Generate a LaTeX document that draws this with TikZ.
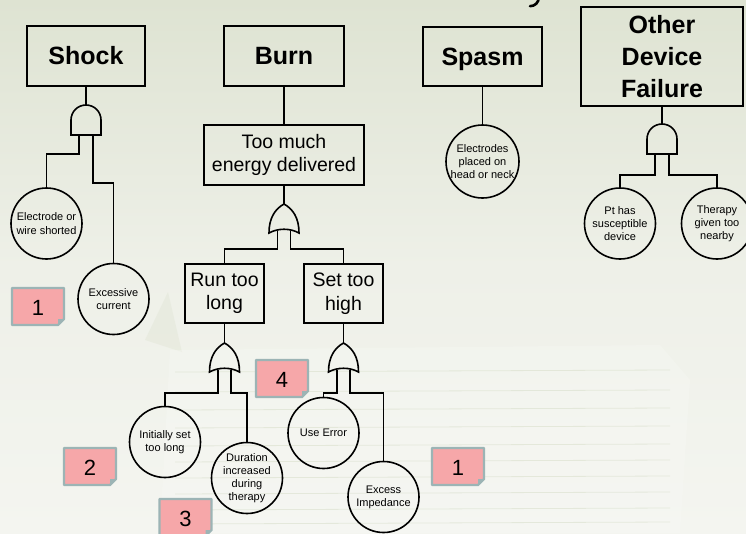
\documentclass[tikz,border=0pt]{standalone}
\usepackage{fontspec}
\setmainfont{Liberation Sans}
\begin{document}
\begin{tikzpicture}[x=1pt,y=-1pt,
  wire/.style={line width=1.6pt, line join=miter},
  event/.style={draw, line width=1.6pt, align=center, inner sep=0pt},
  topbox/.style={event, font=\fontsize{25}{32}\selectfont\bfseries},
  midbox/.style={event, font=\fontsize{19.5}{23.5}\selectfont},
  basic/.style={draw, line width=1.6pt, circle, minimum size=71pt, inner sep=0pt,
    align=center, font=\fontsize{11}{13.2}\selectfont},
  notebody/.style={fill=notepink, draw=noteedge, line width=2.4pt, line join=round},
  notetext/.style={font=\fontsize{22}{22}\selectfont, inner sep=0pt},
  andgate/.pic={
    \draw[wire] (-15,30) -- (-15,15) arc[start angle=180, end angle=0, radius=15pt]
      -- (15,30) -- cycle;
    \coordinate (-top) at (0,0);
    \coordinate (-l) at (-7,30);
    \coordinate (-r) at (7,30);
  },
  orgate/.pic={
    \draw[wire] (0,0) .. controls (9,5) and (15,14) .. (15,29)
      .. controls (6,24) and (-6,24) .. (-15,29)
      .. controls (-15,14) and (-9,5) .. (0,0) -- cycle;
    \coordinate (-top) at (0,0);
    \coordinate (-l) at (-6.5,26.5);
    \coordinate (-r) at (6.5,26.5);
  },
  stickynote/.pic={
    \path[notebody] (-26,-18.5) -- (26,-18.5) -- (26,12.5) -- (20,18.5)
      -- (-26,18.5) -- cycle;
    \fill[noteedge] (26,12.5) -- (20,12.5) -- (20,18.5) -- cycle;
    \node[notetext] (-txt) at (0,1) {#1};
  }
]
\definecolor{bgtop}{HTML}{DEE3D2}
\definecolor{bgmid}{HTML}{EEF0E8}
\definecolor{bgbot}{HTML}{F4F5F0}
\definecolor{paper}{HTML}{F9FAF7}
\definecolor{papershade}{HTML}{D5DCC6}

\definecolor{notepink}{HTML}{F6A7A9}
\definecolor{noteedge}{HTML}{9CB4B5}

% page background
\shade[top color=bgtop, bottom color=bgbot, middle color=bgmid]
  (0,0) rectangle (746,533);
\useasboundingbox (0,0) rectangle (746,533);

% faint stack of papers behind the lower half
\begin{scope}[opacity=0.3]
  \fill[papershade, opacity=0.25] (145,340) -- (168,292) -- (182,352) -- cycle;
  \fill[paper] (170,350) -- (660,345) -- (690,380) -- (680,533) -- (160,533) -- cycle;
  \foreach \yy in {372,392,410,428,446,462,478,494,510,524}
    \draw[papershade, line width=0.8pt, opacity=0.5] (175,\yy) -- (670,\yy-2);
\end{scope}

% tail of the heading letter showing below the page edge
\draw[line width=2.6pt, line cap=round] (539,-3) .. controls (538.5,3) and (535,6) .. (530,6.2);

% ---------- Shock ----------
\node[topbox, minimum width=118pt, minimum height=60pt] (shock) at (86,56) {Shock};
\pic (gshock) at (86,105) {andgate};
\node[basic] (shorted) at (46.5,223.5) {Electrode or\\wire shorted};
\node[basic] (current) at (113.5,299) {Excessive\\current};
\draw[wire] (shock.south) -- (gshock-top);
\draw[wire] (gshock-l) -- (gshock-l |- 0,154) -| (shorted.north);
\draw[wire] (gshock-r) -- (gshock-r |- 0,183) -| (current.north);

% ---------- Burn ----------
\node[topbox, minimum width=120pt, minimum height=60pt] (burn) at (284,56) {Burn};
\node[midbox, minimum width=160pt, minimum height=60pt] (energy) at (284,155)
  {Too much\\energy delivered};
\pic (gburn) at (284,204) {orgate};
\node[midbox, minimum width=79pt, minimum height=59pt] (runlong) at (224.5,293.5)
  {Run too\\long};
\node[midbox, minimum width=79pt, minimum height=59pt] (sethigh) at (343.5,293.5)
  {Set too\\high};
\draw[wire] (burn.south) -- (energy.north);
\draw[wire] (energy.south) -- (gburn-top);
\draw[wire] (gburn-l) -- (gburn-l |- 0,249) -| (runlong.north);
\draw[wire] (gburn-r) -- (gburn-r |- 0,249) -| (sethigh.north);

% run too long branch
\pic (grun) at (224.5,343) {orgate};
\node[basic] (initial) at (165,442) {Initially set\\too long};
\node[basic] (duration) at (247,478) {Duration\\increased\\during\\therapy};
\draw[wire] (runlong.south) -- (grun-top);
\draw[wire] (grun-l) -- (grun-l |- 0,393) -| (initial.north);
\draw[wire] (grun-r) -- (grun-r |- 0,393) -| (duration.north);

% set too high branch
\pic (gset) at (343.5,343) {orgate};
\node[basic] (useerr) at (323.5,433) {Use Error};
\node[basic] (impedance) at (383.5,497) {Excess\\Impedance};
\draw[wire] (sethigh.south) -- (gset-top);
\draw[wire] (gset-l) -- (gset-l |- 0,393) -| (useerr.north);
\draw[wire] (gset-r) -- (gset-r |- 0,393) -| (impedance.north);

% ---------- Spasm ----------
\node[topbox, text depth=0pt, minimum width=119pt, minimum height=59pt] (spasm)
  at (482.5,56.5) {Spasm};
\node[basic, minimum size=73pt] (headneck) at (482.5,161.5)
  {Electrodes\\placed on\\head or neck};
\draw[wire] (spasm.south) -- (headneck.north);

% ---------- Other Device Failure ----------
\node[topbox, minimum width=162pt, minimum height=99pt] (other) at (662,56.5)
  {Other\\Device\\Failure};
\pic (gother) at (662,124) {andgate};
\node[basic] (suscept) at (620,223.5) {Pt has\\susceptible\\device};
\node[basic] (nearby) at (717,223.5) {Therapy\\given too\\nearby};
\draw[wire] (other.south) -- (gother-top);
\draw[wire] (gother-l) -- (gother-l |- 0,175) -| (suscept.north);
\draw[wire] (gother-r) -- (gother-r |- 0,175) -| (nearby.north);

% ---------- numbered notes ----------
\pic (noteA) at (38,306.5) {stickynote=1};
\pic (noteB) at (282,378.5) {stickynote=4};
\pic (noteC) at (90,466.5) {stickynote=2};
\pic (noteD) at (185.5,517.5) {stickynote=3};
\pic (noteE) at (458,466.5) {stickynote=1};
\end{tikzpicture}
\end{document}
